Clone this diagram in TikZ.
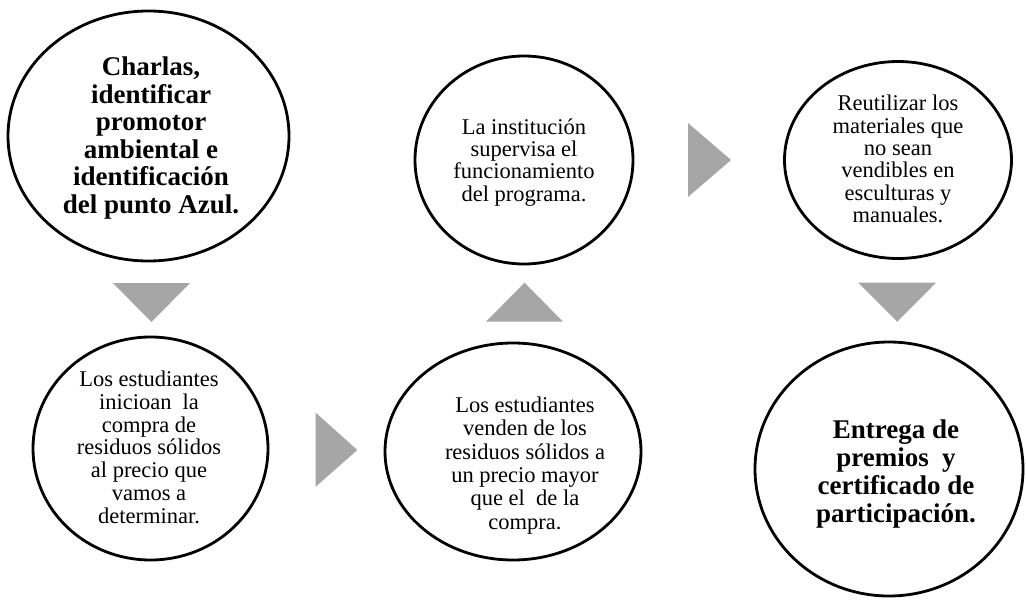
\documentclass[tikz,border=0pt]{standalone}
\usepackage{fontspec}
\setmainfont{Liberation Serif}
\usetikzlibrary{shapes.geometric}
\definecolor{arrowgray}{HTML}{A6A6A6}
\begin{document}
\begin{tikzpicture}[x=1pt,y=-1pt,
  bubble/.style={ellipse,draw=black,line width=2.8pt,fill=white,inner sep=0pt},
  reg/.style={align=center,inner sep=0pt,font=\fontsize{22.5}{#1}\selectfont},
  bld/.style={align=center,inner sep=0pt,font=\fontsize{27}{#1}\selectfont\bfseries},
  tri/.style={fill=arrowgray,draw=none}]
\useasboundingbox[fill=white] (0,0) rectangle (1026,600);

% bubbles
\node[bubble,minimum width=281pt,minimum height=250pt] (c1) at (148.5,136) {};
\node[bubble,minimum width=235pt,minimum height=223pt] (c2) at (150.5,448.5) {};
\node[bubble,minimum width=218pt,minimum height=208pt] (c3) at (524,160) {};
\node[bubble,minimum width=256pt,minimum height=217pt] (c4) at (513,451.5) {};
\node[bubble,minimum width=227pt,minimum height=197pt] (c5) at (898,160) {};
\node[bubble,minimum width=268pt,minimum height=254pt] (c6) at (889,469) {};

% texts
\node[bld=27.6] (t1) at (151,138) {Charlas,\\identificar\\promotor\\ambiental e\\identificación\\del punto Azul.};
\node[reg=22.7] (t2) at (149,447.3) {Los estudiantes\\inicioan\ \ la\\compra de\\residuos sólidos\\al precio que\\vamos a\\determinar.};
\node[reg=22.3] (t3) at (524,162.3) {La institución\\supervisa el\\funcionamiento\\del programa.};
\node[reg=23.4] (t4) at (525,465.3) {Los estudiantes\\venden de los\\residuos sólidos a\\un precio mayor\\que el\ \ de la\\compra.};
\node[reg=22.4] (t5) at (898,159) {Reutilizar los\\materiales que\\no sean\\vendibles en\\esculturas y\\manuales.};
\node[bld=28] (t6) at (896,473.8) {Entrega de\\premios\ \ y\\certificado de\\participación.};

% triangles
\fill[tri] (113,283) -- (190,283) -- (151.5,322) -- cycle;
\fill[tri] (315.7,412.7) -- (357.3,450) -- (315.7,486.7) -- cycle;
\fill[tri] (486,321.7) -- (563,321.7) -- (524.5,282.7) -- cycle;
\fill[tri] (688,123) -- (731,160) -- (688,197) -- cycle;
\fill[tri] (858.3,282.7) -- (936,282.7) -- (897.3,321.7) -- cycle;
\end{tikzpicture}
\end{document}
